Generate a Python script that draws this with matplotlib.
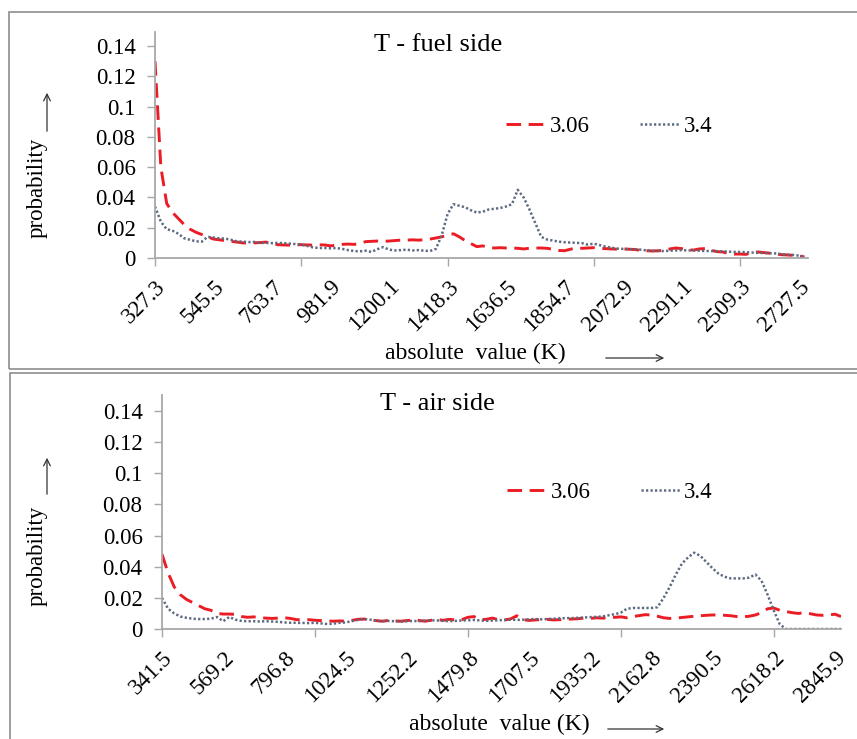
import numpy as np
import matplotlib

matplotlib.use("Agg")
import matplotlib.pyplot as plt
from matplotlib.patches import Rectangle

plt.rcParams["font.family"] = ["Liberation Serif", "DejaVu Serif"]

# ---- data (probability per temperature bin) ----
fuel_labels = ["327.3", "545.5", "763.7", "981.9", "1200.1", "1418.3",
               "1636.5", "1854.7", "2072.9", "2291.1", "2509.3", "2727.5"]
air_labels = ["341.5", "569.2", "796.8", "1024.5", "1252.2", "1479.8",
              "1707.5", "1935.2", "2162.8", "2390.5", "2618.2", "2845.9"]
series_names = ["3.06", "3.4"]

fuel_306 = [
    0.130, 0.060, 0.036, 0.030, 0.026, 0.022, 0.019, 0.017, 0.0155, 0.014,
    0.0125, 0.012, 0.0115, 0.011, 0.0105, 0.010, 0.0098, 0.0100, 0.0102, 0.0105,
    0.0095, 0.0088, 0.0086, 0.0085, 0.0087, 0.0088, 0.0086, 0.0085, 0.0087, 0.0086,
    0.0080, 0.0085, 0.0090, 0.0092, 0.0090, 0.0095, 0.0108, 0.0110, 0.0112, 0.0110,
    0.0112, 0.0115, 0.0118, 0.0118, 0.0120, 0.0118, 0.0120, 0.0125, 0.0132, 0.0140,
    0.0150, 0.0160, 0.0140, 0.0115, 0.0095, 0.0075, 0.0080, 0.0070, 0.0066, 0.0068,
    0.0066, 0.0066, 0.0064, 0.0060, 0.0064, 0.0066, 0.0066, 0.0064, 0.0058, 0.0050,
    0.0048, 0.0058, 0.0066, 0.0064, 0.0066, 0.0068, 0.0064, 0.0062, 0.0060, 0.0058,
    0.0060, 0.0058, 0.0056, 0.0050, 0.0048, 0.0046, 0.0048, 0.0050, 0.0060, 0.0066,
    0.0062, 0.0056, 0.0052, 0.0060, 0.0062, 0.0052, 0.0042, 0.0040, 0.0030, 0.0026,
    0.0026, 0.0024, 0.0035, 0.0040, 0.0036, 0.0032, 0.0028, 0.0022, 0.0020, 0.0018,
    0.0012, 0.0008,
]
fuel_34 = [
    0.034, 0.024, 0.019, 0.018, 0.016, 0.013, 0.012, 0.011, 0.0108, 0.014,
    0.0135, 0.013, 0.0128, 0.012, 0.011, 0.0108, 0.0105, 0.0106, 0.010, 0.0100,
    0.0098, 0.0100, 0.0098, 0.0095, 0.0092, 0.0088, 0.0080, 0.0070, 0.0066, 0.0066,
    0.0064, 0.0066, 0.0060, 0.0052, 0.0046, 0.0044, 0.0048, 0.0040, 0.0058, 0.0072,
    0.0055, 0.0050, 0.0052, 0.0055, 0.0050, 0.0052, 0.0048, 0.0046, 0.0060, 0.0150,
    0.0290, 0.0355, 0.0345, 0.0335, 0.0315, 0.0300, 0.0305, 0.0320, 0.0325, 0.0330,
    0.0340, 0.0355, 0.0450, 0.0400, 0.0320, 0.0230, 0.0140, 0.0122, 0.0115, 0.0108,
    0.0104, 0.0102, 0.0100, 0.0098, 0.0088, 0.0095, 0.0085, 0.0075, 0.0068, 0.0062,
    0.0060, 0.0058, 0.0058, 0.0055, 0.0050, 0.0048, 0.0046, 0.0046, 0.0048, 0.0050,
    0.0052, 0.0050, 0.0050, 0.0048, 0.0046, 0.0046, 0.0045, 0.0044, 0.0042, 0.0040,
    0.0040, 0.0038, 0.0036, 0.0034, 0.0033, 0.0032, 0.0030, 0.0026, 0.0022, 0.0020,
    0.0016, 0.0010,
]
air_306 = [
    0.048, 0.036, 0.027, 0.022, 0.019, 0.017, 0.015, 0.013, 0.012, 0.0100,
    0.0096, 0.0096, 0.0094, 0.0080, 0.0075, 0.0078, 0.0072, 0.0070, 0.0068, 0.0070,
    0.0072, 0.0068, 0.0060, 0.0058, 0.0060, 0.0056, 0.0054, 0.0052, 0.0050, 0.0052,
    0.0050, 0.0055, 0.0062, 0.0064, 0.0060, 0.0054, 0.0050, 0.0055, 0.0052, 0.0050,
    0.0054, 0.0058, 0.0055, 0.0050, 0.0056, 0.0060, 0.0056, 0.0062, 0.0058, 0.0060,
    0.0075, 0.0080, 0.0060, 0.0062, 0.0070, 0.0060, 0.0058, 0.0065, 0.0085, 0.0060,
    0.0055, 0.0058, 0.0060, 0.0062, 0.0058, 0.0060, 0.0062, 0.0064, 0.0066, 0.0070,
    0.0068, 0.0072, 0.0070, 0.0072, 0.0075, 0.0078, 0.0072, 0.0080, 0.0086, 0.0092,
    0.0090, 0.0082, 0.0072, 0.0068, 0.0070, 0.0074, 0.0078, 0.0082, 0.0085, 0.0088,
    0.0090, 0.0090, 0.0088, 0.0085, 0.0080, 0.0078, 0.0082, 0.0090, 0.0105, 0.0130,
    0.0135, 0.0120, 0.0112, 0.0105, 0.0100, 0.0105, 0.0098, 0.0090, 0.0088, 0.0090,
    0.0095, 0.0080,
]
air_34 = [
    0.020, 0.013, 0.010, 0.008, 0.0072, 0.0066, 0.0064, 0.0064, 0.0066, 0.0077,
    0.0050, 0.0077, 0.0060, 0.0052, 0.0050, 0.0050, 0.0048, 0.0050, 0.0048, 0.0046,
    0.0042, 0.0040, 0.0040, 0.0039, 0.0038, 0.0040, 0.0036, 0.0032, 0.0034, 0.0040,
    0.0042, 0.0050, 0.0058, 0.0064, 0.0060, 0.0052, 0.0050, 0.0052, 0.0050, 0.0048,
    0.0050, 0.0052, 0.0050, 0.0054, 0.0056, 0.0055, 0.0052, 0.0050, 0.0052, 0.0055,
    0.0056, 0.0058, 0.0055, 0.0052, 0.0054, 0.0056, 0.0058, 0.0060, 0.0058, 0.0060,
    0.0062, 0.0064, 0.0062, 0.0064, 0.0066, 0.0068, 0.0070, 0.0070, 0.0072, 0.0074,
    0.0076, 0.0078, 0.0080, 0.0088, 0.0095, 0.0105, 0.0130, 0.0135, 0.0135, 0.0135,
    0.0135, 0.0140, 0.0200, 0.0270, 0.0350, 0.0420, 0.0460, 0.0490, 0.0470, 0.0430,
    0.0390, 0.0355, 0.0335, 0.0325, 0.0325, 0.0325, 0.0330, 0.0350, 0.0310, 0.0220,
    0.0120, 0.0030, 0.0, 0.0, 0.0, 0.0, 0.0, 0.0, 0.0, 0.0,
    0.0, 0.0,
]

RED = "#ec1c24"
GRAY = "#5d6b80"
AXIS = "#a8a8a8"
FS = 16.5

fig = plt.figure(figsize=(8.57, 7.39), dpi=100)


def px(x, y):
    return x / 857, 1 - y / 739


def arrow(ax, start, end):
    ax.annotate("", xy=px(*end), xytext=px(*start), xycoords="figure fraction",
                textcoords="figure fraction", annotation_clip=False,
                arrowprops=dict(arrowstyle="->", lw=0.9, color="#333333",
                                mutation_scale=12))


def draw_panel(rect, s306, s34, labels, ymax, xmax, title, title_xy, leg_anchor,
               ylab_xy, yarrow, xlab_xy, xarrow):
    ax = fig.add_axes(rect)
    x = np.arange(len(s306))
    ax.plot(x, s306, color=RED, lw=2.1, dashes=(5, 2.6), label=series_names[0])
    ax.plot(np.arange(len(s34)), s34, color=GRAY, lw=1.8, dashes=(0.9, 0.9),
            label=series_names[1])
    ax.set_xlim(0, xmax)
    ax.set_ylim(0, ymax)
    ax.set_yticks(np.arange(0, 0.141, 0.02))
    ax.set_yticklabels(["0", "0.02", "0.04", "0.06", "0.08", "0.1", "0.12", "0.14"])
    ax.set_xticks(x[::10][:len(labels)])
    ax.set_xticklabels(labels, rotation=45, ha="right", va="top", rotation_mode="anchor")
    ax.set_xticks(x[::25], minor=True)
    ax.xaxis.remove_overlapping_locs = False
    ax.tick_params(axis="x", which="major", length=0, pad=13, labelsize=FS)
    ax.tick_params(axis="x", which="minor", length=6, width=1, color=AXIS, direction="out")
    ax.tick_params(axis="y", length=6, width=1, color=AXIS, pad=8, labelsize=FS)
    for side in ("top", "right"):
        ax.spines[side].set_visible(False)
    for side in ("left", "bottom"):
        ax.spines[side].set_color(AXIS)
        ax.spines[side].set_linewidth(1.3)
    ax.legend(ncol=2, frameon=False, loc="center left", bbox_to_anchor=leg_anchor,
              handlelength=1.75, handletextpad=0.15, columnspacing=2.2,
              fontsize=FS, borderpad=0, borderaxespad=0)

    fig.text(*px(*title_xy), title, fontsize=19, ha="center", va="center")
    fig.text(*px(*ylab_xy), "probability", fontsize=16.5, rotation=90,
             ha="center", va="center")
    arrow(ax, *yarrow)
    fig.text(*px(*xlab_xy), "absolute  value (K)", fontsize=17, ha="center", va="center")
    arrow(ax, *xarrow)
    return ax


# frames around the two panels
fig.patches.append(Rectangle(px(9, 369), 0.995, 357 / 739, transform=fig.transFigure,
                             fill=False, edgecolor="#8e8e8e", lw=1.2))
fig.patches.append(Rectangle(px(10, 745), 0.995, 372 / 739, transform=fig.transFigure,
                             fill=False, edgecolor="#8e8e8e", lw=1.2))

l, b = px(155, 258)
_, t = px(155, 32)
draw_panel([l, b, (808 - 155) / 857, t - b], fuel_306, fuel_34, fuel_labels,
           0.1492, 111.6, "T - fuel side", (438, 45), (0.538, 0.58),
           (37, 188), ((47, 134), (47, 90)), (475, 353), ((603, 358), (667, 358)))

l, b = px(162, 629)
_, t = px(162, 395)
draw_panel([l, b, (841 - 162) / 857, t - b], air_306, air_34, air_labels,
           0.1503, 111.0, "T - air side", (437, 404), (0.508, 0.583),
           (37, 556), ((47, 497), (47, 455)), (499, 724), ((605, 729), (667, 729)))

fig.savefig("out.png", dpi=100, facecolor="white")
